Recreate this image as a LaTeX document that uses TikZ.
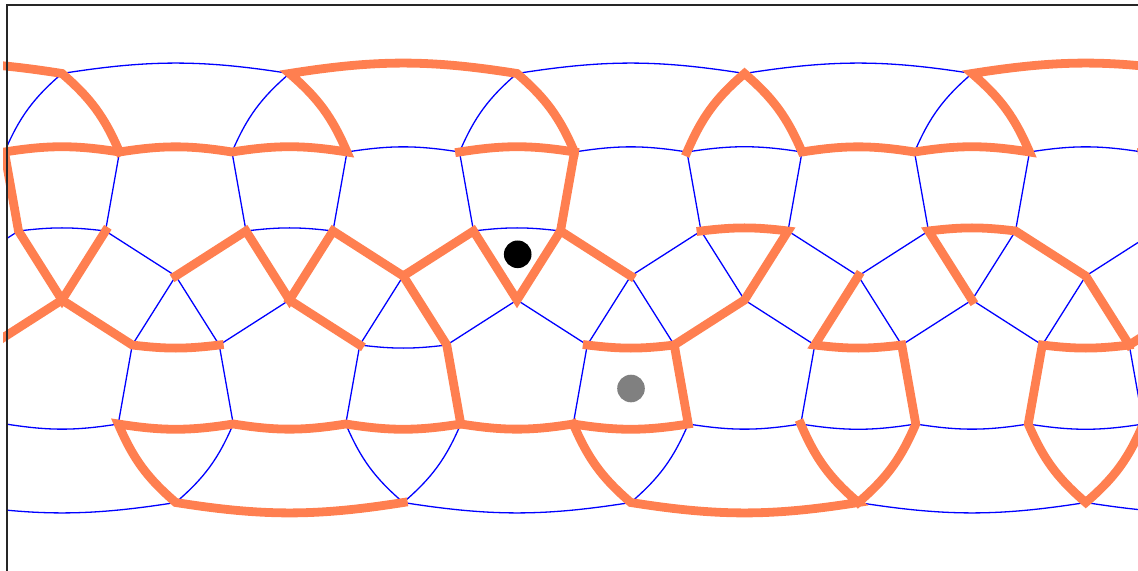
\documentclass[tikz,border=0pt]{standalone}
\definecolor{coral}{RGB}{255,127,80}
\begin{document}
\begin{tikzpicture}[x=0.5pt,y=-0.5pt,
  tile/.style={blue, line width=0.65pt},
  walk/.style={coral, line width=4.4pt, line cap=rect, line join=miter},
  frame/.style={black!85, line width=1pt},
  dot/.style={circle, inner sep=0pt, minimum size=13.8pt}]
\useasboundingbox (0,0) rectangle (1138,571);
% vertices of the curved tiling, one period per index
\foreach \i in {0,...,6}{
  \pgfmathsetmacro\xa{62+227.5*(\i-1)}
  \pgfmathsetmacro\xe{\xa+113.75}
  \coordinate (A\i) at (\xa,73.5);
  \coordinate (BL\i) at (\xa-57.5,152);
  \coordinate (BR\i) at (\xa+57.5,152);
  \coordinate (CL\i) at (\xa-43.5,231);
  \coordinate (CR\i) at (\xa+43.5,231);
  \coordinate (D\i) at (\xa,300);
  \coordinate (E\i) at (\xe,276);
  \coordinate (FL\i) at (\xe-43.5,345);
  \coordinate (FR\i) at (\xe+43.5,345);
  \coordinate (GL\i) at (\xe-57.5,424);
  \coordinate (GR\i) at (\xe+57.5,424);
  \coordinate (H\i) at (\xe,502.5);
}
% blue tiling
\begin{scope}
\clip (7,5) rectangle (1138,571);
\foreach \i in {0,...,6}{
  \draw[tile] (BL\i) to[bend left=13] (A\i) to[bend left=13] (BR\i);
  \draw[tile] (BL\i) to[bend left=9] (BR\i) -- (CR\i) to[bend right=7] (CL\i) -- cycle;
  \draw[tile] (CL\i) -- (D\i) -- (CR\i) -- (E\i);
  \draw[tile] (FL\i) -- (E\i) -- (FR\i);
  \draw[tile] (D\i) -- (FL\i);
  \draw[tile] (FL\i) to[bend right=7] (FR\i) -- (GR\i) to[bend left=9] (GL\i) -- cycle;
  \draw[tile] (GL\i) to[bend right=13] (H\i) to[bend right=13] (GR\i);
}
\foreach \i [evaluate=\i as \j using int(\i+1)] in {0,...,5}{
  \draw[tile] (A\i) to[bend left=9] (A\j);
  \draw[tile] (BR\i) to[bend left=9] (BL\j);
  \draw[tile] (E\i) -- (CL\j);
  \draw[tile] (FR\i) -- (D\j);
  \draw[tile] (GR\i) to[bend right=9] (GL\j);
  \draw[tile] (H\i) to[bend right=9] (H\j);
}
\end{scope}
% orange paths
\begin{scope}
\clip (3,5) rectangle (1138,571);
\draw[walk] (A0) to[bend left=9] (A1) to[bend left=13] (BR1);
\draw[walk] (CR1) -- (D1) -- (CL1) -- (BL1) to[bend left=9] (BR1) to[bend left=9] (BL2)
  to[bend left=9] (BR2) to[bend right=13] (A2) to[bend left=9] (A3) to[bend left=13] (BR3)
  -- (CR3) -- (D3) -- (CL3) -- (E2) -- (CR2) -- (D2) -- (CL2) -- (E1);
\draw[walk] (BL3) to[bend left=9] (BR3);
\draw[walk] (CR3) -- (E3);
\draw[walk] (BL4) to[bend left=13] (A4) to[bend left=13] (BR4) to[bend left=9] (BL5)
  to[bend left=9] (BR5) to[bend right=13] (A5) to[bend left=9] (A6);
\draw[walk] (CL4) to[bend left=7] (CR4) -- (D4) -- (FR3) -- (GR3) to[bend left=9] (GL3)
  to[bend left=9] (GR2) to[bend left=9] (GL2) to[bend left=9] (GR1) to[bend left=9] (GL1)
  to[bend right=13] (H1) to[bend right=9] (H2);
\draw[walk] (FL3) to[bend right=7] (FR3);
\draw[walk] (GL3) to[bend right=13] (H3) to[bend right=9] (H4) to[bend left=13] (GL4);
\draw[walk] (H4) to[bend right=13] (GR4) -- (FR4) to[bend left=7] (FL4) -- (E4);
\draw[walk] (D5) -- (CL5) to[bend left=7] (CR5) -- (E5) -- (FR5) -- (D6);
\draw[walk] (FR5) to[bend left=7] (FL5) -- (GL5) to[bend right=13] (H5) to[bend right=13] (GR5);
\draw[walk] (FR0) -- (D1) -- (FL1) to[bend right=7] (FR1);
\draw[walk] (D2) -- (FL2);
\draw[walk] (E2) -- (FR2) -- (GR2);
\draw[walk] (BL6) to[bend left=9] (BR6);
\end{scope}
% frame
\draw[frame] (7,571) -- (7,5) -- (1138,5);
% markers
\node[dot, fill=black] (walker) at (517.7,254.3) {};
\node[dot, fill=gray] (goal) at (631,388.5) {};
\end{tikzpicture}
\end{document}
